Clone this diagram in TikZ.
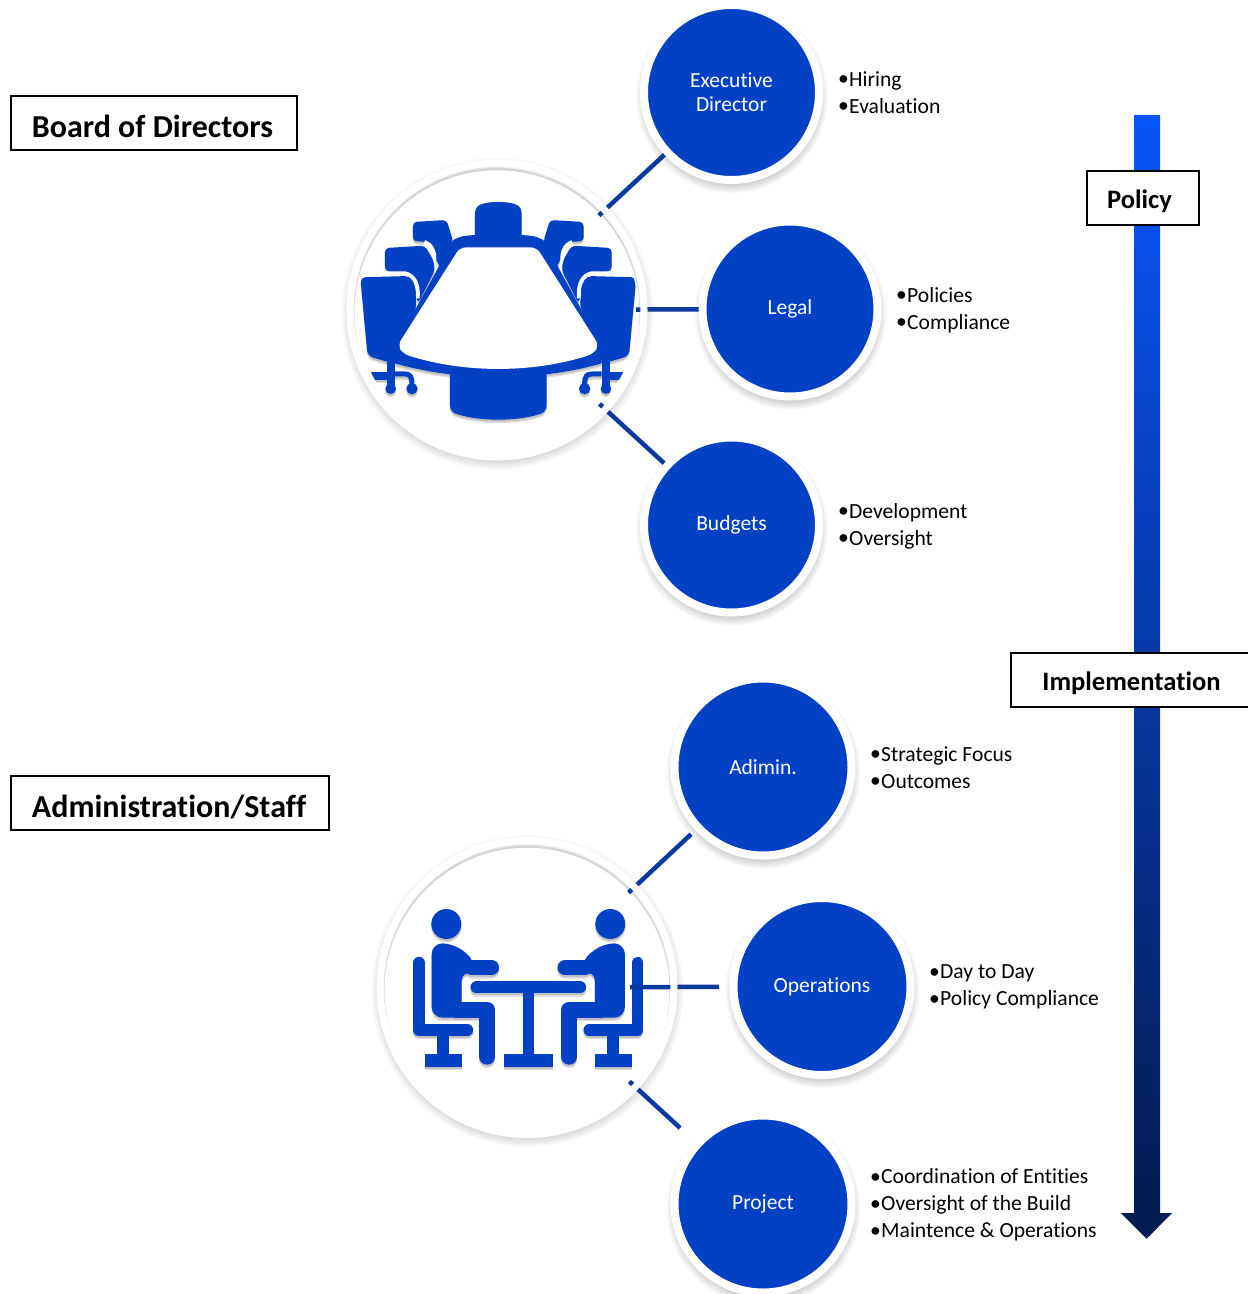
\documentclass[tikz,border=0pt]{standalone}
\usepackage{fontspec}
\setmainfont[Ligatures=NoCommon]{Carlito}
\usetikzlibrary{calc,shadows}
\definecolor{iconblue}{HTML}{0341C4}
\definecolor{linkblue}{HTML}{0A3A9E}
\definecolor{flowtop}{HTML}{0A55F8}
\definecolor{flowend}{HTML}{021A4D}
\newcommand{\itm}[1]{\makebox[11pt][l]{\raisebox{.5pt}{•}}#1}
\tikzset{
  topic/.style={circle,fill=iconblue,draw=white,line width=8pt,minimum size=175pt,inner sep=0pt,outer sep=0pt,
    text=white,align=center,font=\fontsize{21.5}{24}\selectfont,
    circular drop shadow={shadow xshift=0pt,shadow yshift=-4pt,shadow scale=1.1,opacity=.55}},
  hub/.style={circle,fill=white,minimum size=295pt,inner sep=0pt,outer sep=0pt,
    circular drop shadow={shadow xshift=0pt,shadow yshift=-3pt,shadow scale=1.06,opacity=.7}},
  duties/.style={anchor=north west,align=left,inner sep=0pt,font=\fontsize{21.6}{27}\selectfont},
  titlebox/.style={draw=black,fill=white,line width=2pt,inner sep=0pt,minimum height=54pt,
    text height=41.5pt,text depth=12.5pt,font=\bfseries\fontsize{32}{36}\selectfont},
  flowbox/.style={titlebox,text height=37.5pt,text depth=16.5pt,font=\bfseries\fontsize{26.6}{30}\selectfont},
  gap/.style={white,line width=4pt},
  link/.style={linkblue,line width=4.5pt},
}
\begin{document}
\begin{tikzpicture}[x=1pt,y=-1pt]
    \useasboundingbox (0,0) rectangle (1248,1294);

    % flow arrow
    \shade [top color=flowtop,bottom color=flowend] (1134,115) -- (1160,115) -- (1160,1213) -- (1172,1213)
        -- (1146.7,1238.7) -- (1121,1213) -- (1134,1213) -- cycle;
    \node[flowbox,minimum width=112pt] (Policy) at (1143,198) {Policy\hspace*{7pt}};
    \node[flowbox,minimum width=241pt] (Implementation) at (1131.5,680) {Implementation};

    \node[titlebox,minimum width=286pt] (Board) at (154,122.5) {Board of Directors\hspace*{3pt}};
    \node[titlebox,minimum width=318pt] (Staff) at (170,803) {Administration/Staff\hspace*{2pt}};

    % topics
    \node[topic] (ExecDir) at (731.5,92.5) {Executive\\Director};
    \node[topic] (Legal) at (790,309) {Legal};
    \node[topic] (Budgets) at (731.5,525) {Budgets};
    \node[topic,minimum size=177pt] (Admin) at (763,767) {Adimin.};
    \node[topic,minimum size=177pt] (Operations) at (822,986.5) {Operations};
    \node[topic,minimum size=177pt] (Project) at (763,1204) {Project};

    \node[duties] (ExecList) at (838,71) {\itm{Hiring}\\\itm{Evaluation}};
    \node[duties] (LegalList) at (896,287) {\itm{Policies}\\\itm{Compliance}};
    \node[duties] (BudgetList) at (838,503) {\itm{Development}\\\itm{Oversight}};
    \node[duties] (AdminList) at (870,746) {\itm{Strategic Focus}\\\itm{Outcomes}};
    \node[duties] (OperList) at (929,964.5) {\itm{Day to Day}\\\itm{Policy Compliance}};
    \node[duties] (ProjectList) at (870,1168.5) {\itm{Coordination of Entities}\\\itm{Oversight of the Build}\\\itm{Maintence \& Operations}};

    % hubs
    \node[hub] (BoardHub) at (497,310) {};
    \node[hub] (StaffHub) at (527,987.5) {};
    \foreach \hubname in {BoardHub,StaffHub} {
        \fill [gray!8] (\hubname) circle (144);
        \fill [gray!18] ([yshift=-.6pt]\hubname) circle (143.5);
        \fill [gray!34] ([yshift=-1.2pt]\hubname) circle (143);
        \fill [white] ([yshift=-2.8pt]\hubname) circle (142.5);
    }

    % table icon
    \begin{scope}
    \clip (BoardHub) circle (140.5);
    \foreach \tone/\fall in {gray!25/-3.5pt,gray!50/-2pt,iconblue/0pt} {
    \begin{scope}[shift={(498.3,160)},yshift=\fall,x=.3333pt,y=-.3333pt]
        \foreach \s in {1,-1} {
        \begin{scope}[xscale=\s]
            \fill [fill=\tone,rounded corners=4pt] (-256,244) -- (-256,186) -- (-155,180) -- (-135,245) -- (-170,330) -- (-215,245) -- cycle;
            \draw [gap] (-222,246) .. controls (-198,255) and (-184,280) .. (-197,327);
            \fill [fill=\tone,rounded corners=4pt] (-340,332) -- (-340,264) -- (-220,257) -- (-195,300) -- (-190,330) -- (-240,430) -- (-270,345) -- cycle;
            \draw [gap] (-347,340) -- (-280,340) .. controls (-255,345) and (-238,370) .. (-242,415);
            \fill [fill=\tone,rounded corners=5pt] (-414,352) -- (-265,348) -- (-250,380) -- (-245,440) -- (-300,560) -- (-310,612) -- (-392,588) -- cycle;
            \fill [fill=\tone] (-335,590) rectangle (-310,690);
            \fill [fill=\tone] (-382,635) rectangle (-310,660);
            \draw [draw=\tone,line width=5pt] (-310,642) -- (-280,642) .. controls (-265,642) and (-259,650) .. (-259,672);
            \fill [fill=\tone] (-323,686) circle (16);
            \fill [fill=\tone] (-259,686) circle (17);
        \end{scope}
        }
        \fill [fill=\tone,rounded corners=4pt] (-70,235) -- (-70,145) .. controls (-40,122) and (40,122) .. (70,145) -- (70,235) -- cycle;
        \fill [fill=\tone,rounded corners=6pt] (-145,630) -- (-145,755) .. controls (-60,785) and (60,785) .. (145,755) -- (145,630) -- cycle;
        \fill [fill=\tone] (-135,240) .. controls (-110,228) .. (-70,225) -- (70,225) .. controls (110,228) .. (135,240)
            -- (310,560) -- (310,610) .. controls (120,665) and (-120,665) .. (-310,610) -- (-310,560) -- cycle;
        \fill [white,rounded corners=6pt] (-115,262) -- (115,262) -- (302,556) -- (285,582) .. controls (100,640) and (-100,640) .. (-285,582) -- (-302,556) -- cycle;
    \end{scope}
    }
    \end{scope}

    % meeting icon
    \foreach \tone/\fall in {gray!25/-3.5pt,gray!50/-2pt,iconblue/0pt} {
    \begin{scope}[shift={(528.3,835)},yshift=\fall,x=.3333pt,y=-.3333pt]
        \foreach \s in {1,-1} {
        \begin{scope}[xscale=\s]
            \fill [fill=\tone] (-246,267) circle (45);
            \fill [fill=\tone,rounded corners=11pt] (-290,548) -- (-290,325) -- (-225,325) -- (-160,375) -- (-160,420) -- (-200,405) -- (-200,548) -- cycle;
            \draw [draw=\tone,line width=15pt,line cap=round] (-170,398) -- (-110,398);
            \draw [draw=\tone,line width=16pt,line cap=round,line join=round] (-220,524) -- (-123,524) -- (-123,665);
            \draw [draw=\tone,line width=11.7pt,line cap=round,line join=round] (-328,383) -- (-328,585) -- (-183,585);
            \fill [fill=\tone] (-273,590) rectangle (-237,660);
            \fill [fill=\tone] (-310,658) rectangle (-200,695);
        \end{scope}
        }
        \draw [draw=\tone,line width=12.3pt,line cap=round] (-155,457) -- (155,457);
        \fill [fill=\tone] (-17,470) rectangle (18,660);
        \fill [fill=\tone] (-73,658) rectangle (74,695);
    \end{scope}
    }

    % links
    \draw [link,shorten >=4pt] ($(BoardHub)!139pt!(ExecDir)$) -- (ExecDir);
    \draw [link,shorten >=4pt] ($(BoardHub)!139pt!(Legal)$) -- (Legal);
    \draw [link,shorten >=4pt] ($(BoardHub)!139pt!(Budgets)$) -- (Budgets);
    \draw [link,shorten >=10pt] ($(StaffHub)!139pt!(Admin)$) -- (Admin);
    \draw [link,shorten >=14.5pt] ($(StaffHub)!103pt!(Operations)$) -- (Operations);
    \draw [link,shorten >=24pt] ($(StaffHub)!139pt!(Project)$) -- (Project);

    \foreach \hubname in {BoardHub,StaffHub}
        \draw [white,line width=7pt] (\hubname) circle (147);
\end{tikzpicture}
\end{document}
